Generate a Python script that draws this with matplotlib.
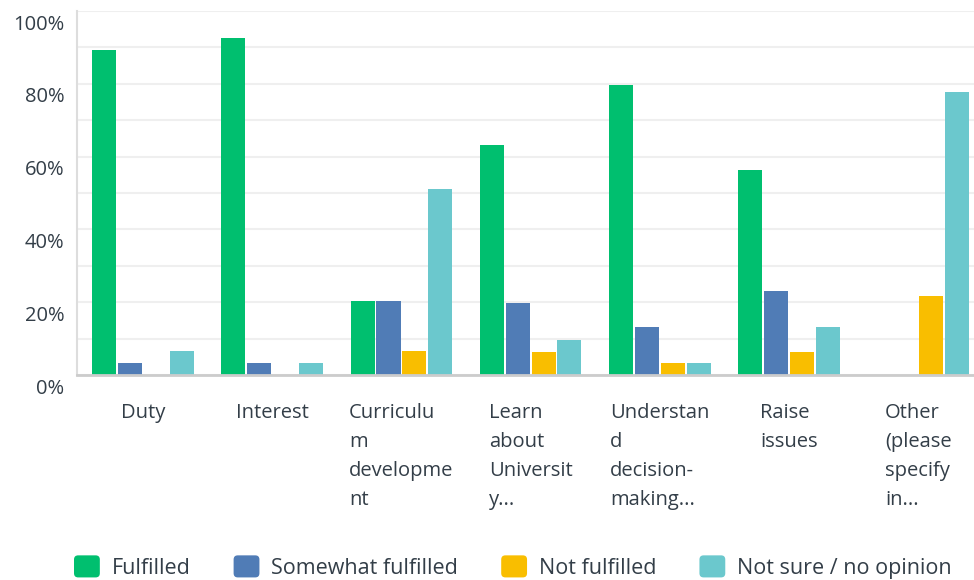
import matplotlib
matplotlib.use("Agg")
import matplotlib.pyplot as plt
import matplotlib.transforms as mtransforms
from matplotlib.patches import FancyBboxPatch, Rectangle
from matplotlib.legend_handler import HandlerPatch
import numpy as np

categories = ["Duty", "Interest", "Curriculu\nm\ndevelopme\nnt", "Learn\nabout\nUniversit\ny...",
              "Understan\nd\ndecision-\nmaking...", "Raise\nissues", "Other\n(please\nspecify\nin..."]
series_names = ["Fulfilled", "Somewhat fulfilled", "Not fulfilled", "Not sure / no opinion"]
fulfilled = [89.3, 92.6, 20.3, 63.2, 79.7, 56.3, 0.0]
somewhat = [3.3, 3.3, 20.3, 19.8, 13.2, 23.1, 0.0]
not_fulfilled = [0.0, 0.0, 6.6, 6.3, 3.3, 6.3, 21.7]
not_sure = [6.6, 3.3, 51.1, 9.6, 3.3, 13.2, 77.7]
colors = ["#00BF6F", "#507CB6", "#F9BE00", "#6BC8CD"]
yticks = [0, 20, 40, 60, 80, 100]
ytick_labels = ["0%", "20%", "40%", "60%", "80%", "100%"]

plt.rcParams['font.family'] = ['Open Sans', 'DejaVu Sans']
text_color = "#333E48"

fig = plt.figure(figsize=(9.74, 5.8), dpi=100)
ax = fig.add_axes([77/974, 1-375/580, 1-77/974, (375-11)/580])

x = np.arange(len(categories))
offsets = [-0.3, -0.1, 0.1, 0.3]
width = 0.186
for vals, off, col in zip([fulfilled, somewhat, not_fulfilled, not_sure], offsets, colors):
    ax.bar(x + off, vals, width=width, color=col, zorder=3)

ax.set_xlim(-0.511, 6.432)
ax.set_ylim(0, 100)
ax.set_yticks(yticks)
ax.set_yticklabels(ytick_labels)
ax.set_yticks(np.arange(0, 101, 10), minor=True)
ax.grid(axis='y', which='both', color='#EFEFEF', linewidth=1.5, zorder=0)
ax.tick_params(axis='y', which='both', length=0, pad=9, labelsize=14.5, labelcolor=text_color)
offset = mtransforms.ScaledTranslation(0, -11/100, fig.dpi_scale_trans)
for lab in ax.get_yticklabels():
    lab.set_transform(lab.get_transform() + offset)

ax.set_xticks(x)
ax.set_xticklabels(categories)
ax.tick_params(axis='x', length=0, pad=20, labelsize=14.5, labelcolor=text_color)
for lab in ax.get_xticklabels():
    lab.set_multialignment('left')
    lab.set_linespacing(1.61)

for s in ['top', 'right']:
    ax.spines[s].set_visible(False)
ax.spines['left'].set_color('#DDDDDD')
ax.spines['left'].set_linewidth(1.5)
ax.spines['bottom'].set_color('#CCCCCC')
ax.spines['bottom'].set_linewidth(2)
ax.spines['bottom'].set_zorder(4)


class RoundHandler(HandlerPatch):
    def create_artists(self, legend, orig_handle, xdescent, ydescent, width, height, fontsize, trans):
        p = FancyBboxPatch((-xdescent, -ydescent), width, height,
                           boxstyle="round,pad=0,rounding_size=3",
                           facecolor=orig_handle.get_facecolor(), edgecolor='none', transform=trans)
        return [p]

handles = [Rectangle((0, 0), 1, 1, facecolor=c) for c in colors]
handler = RoundHandler()
leg = fig.legend(handles, series_names, loc='center left', bbox_to_anchor=(74/974, 1-567/580), ncol=4,
                 frameon=False, fontsize=15.5, handlelength=1.2, handleheight=1.2,
                 handletextpad=0.55, columnspacing=2.0, labelcolor=text_color, borderpad=0,
                 borderaxespad=0, handler_map={Rectangle: handler})

fig.savefig("out.png", dpi=100)
